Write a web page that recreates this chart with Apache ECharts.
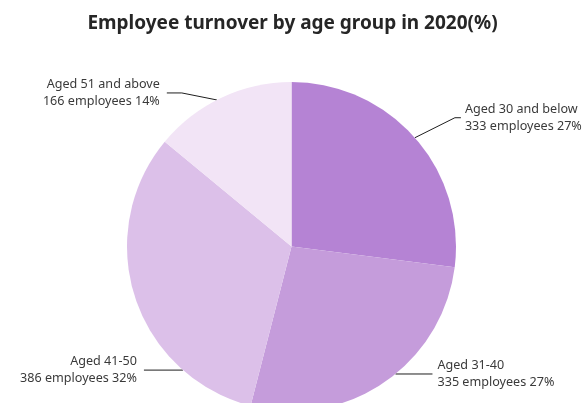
<!DOCTYPE html>
<html>
<head>
<meta charset="utf-8">
<script src="https://cdn.jsdelivr.net/npm/echarts@6/dist/echarts.min.js"></script>
<style>
  html, body { margin: 0; padding: 0; background: #ffffff; }
  #chart { width: 585px; height: 403px; }
</style>
</head>
<body>
<div id="chart"></div>
<script>
// Age groups, share of turnover (%) and head counts
const ageGroups = ['Aged 30 and below', 'Aged 31-40', 'Aged 41-50', 'Aged 51 and above'];
const sharePercent = [27, 27, 32, 14];
const employees = [333, 335, 386, 166];

const sliceColors = ['#b583d4', '#c59cdb', '#dcc0e9', '#f2e4f6'];

// Pie geometry (fractions of the canvas) and radius in px
const CENTER_X = 0.4983, CENTER_Y = 0.6117, RADIUS = 164.5;

// Label leader lines: where the line leaves the pie (deg, clockwise from 12 o'clock),
// elbow offset from that point, horizontal tail length, side and gap to the text.
const leader = [
  { angle: 48.6,  dx: 40,  dy: -20, tail: 6,  side: 'right', gap: 4 },
  { angle: 140.8, dx: 0,   dy: 0,   tail: 37, side: 'right', gap: 5 },
  { angle: 221.3, dx: 0,   dy: 0,   tail: 39, side: 'left',  gap: 7 },
  { angle: 333.0, dx: -35, dy: -7,  tail: 15, side: 'left',  gap: 7 }
];

const chart = echarts.init(document.getElementById('chart'), null, { renderer: 'canvas' });

const FONT = '"Noto Sans", "Open Sans", sans-serif';

chart.setOption({
  backgroundColor: '#ffffff',
  animation: false,
  title: {
    text: 'Employee turnover by age group in 2020(%)',
    left: 'center',
    top: 9,
    textStyle: { fontFamily: FONT, fontSize: 19, fontWeight: 'bold', color: '#262626' }
  },
  series: [{
    type: 'pie',
    center: [(CENTER_X * 100) + '%', (CENTER_Y * 100) + '%'],
    radius: RADIUS,
    startAngle: 90,
    clockwise: true,
    avoidLabelOverlap: false,
    data: ageGroups.map((name, i) => ({
      name: name,
      value: sharePercent[i],
      itemStyle: { color: sliceColors[i] }
    })),
    label: {
      show: true,
      position: 'outside',
      fontFamily: FONT,
      fontSize: 12.6,
      lineHeight: 17,
      color: '#3a3a3a',
      formatter: p => p.name + '\n' + employees[p.dataIndex] + ' employees ' + p.value + '%'
    },
    labelLine: {
      show: true,
      smooth: false,
      lineStyle: { color: '#1f1f1f', width: 1 }
    },
    labelLayout: function (params) {
      const cfg = leader[params.dataIndex];
      const cx = chart.getWidth() * CENTER_X;
      const cy = chart.getHeight() * CENTER_Y;
      const a = cfg.angle * Math.PI / 180;
      const sx = cx + RADIUS * Math.sin(a);
      const sy = cy - RADIUS * Math.cos(a);
      const ex = sx + cfg.dx;
      const ey = sy + cfg.dy;
      const dir = cfg.side === 'right' ? 1 : -1;
      const tx = ex + dir * cfg.tail;
      return {
        x: tx + dir * cfg.gap,
        y: ey,
        align: cfg.side === 'right' ? 'left' : 'right',
        verticalAlign: 'middle',
        labelLinePoints: [[sx, sy], [ex, ey], [tx, ey]]
      };
    }
  }]
});
</script>
</body>
</html>
